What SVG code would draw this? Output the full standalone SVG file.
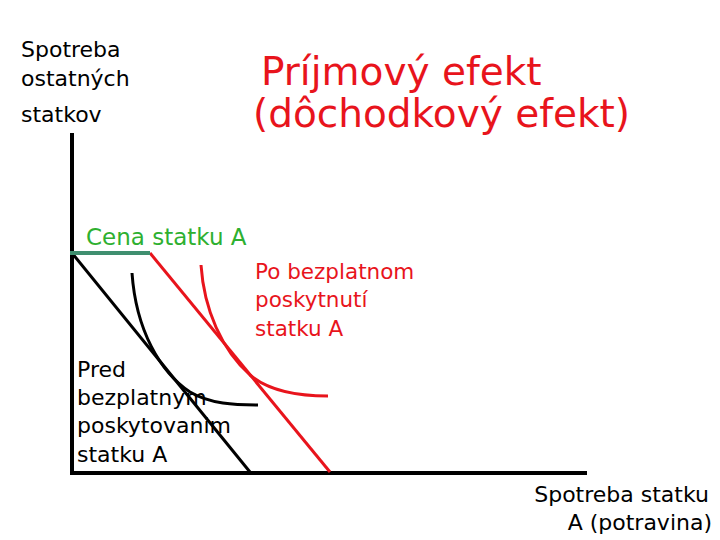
<svg xmlns="http://www.w3.org/2000/svg" width="720" height="540" viewBox="0 0 720 540">
<style>
text{font-family:"DejaVu Sans","Liberation Sans",sans-serif}
.blk{fill:#000}
.red{fill:#e8141c}
.grn{fill:#2eb030}
.ax{stroke:#000;stroke-width:4;fill:none}
.bl{stroke:#000;stroke-width:3;fill:none}
.rl{stroke:#e8141c;stroke-width:3;fill:none}
.gl{stroke:#3f8f6f;stroke-width:4;fill:none}
</style>
<rect width="720" height="540" fill="#fff"/>
<g id="connectors">
<path class="ax" d="M72,133 V473 H587"/>
<path class="bl" d="M72,253 L250,472"/>
<path class="rl" d="M150,253 L330,472"/>
<path class="gl" d="M70,253 H150"/>
<path class="bl" d="M132,273 C136,330 160,372 190,392 C210,404 235,405 258,405"/>
<path class="rl" d="M201,265 C204,310 222,350 250,375 C270,392 300,396 328,396"/>
</g>
<g id="ylabel">
<text class="blk" font-size="22" x="21" y="57">Spotreba</text>
<text class="blk" font-size="22" x="21" y="86">ostatných</text>
<text class="blk" font-size="22" x="21" y="122">statkov</text>
</g>
<g id="title">
<text class="red" font-size="39" x="261" y="85">Príjmový efekt</text>
<text class="red" font-size="39" x="253" y="127">(dôchodkový efekt)</text>
</g>
<g id="price">
<text class="grn" font-size="23" x="86" y="245">Cena statku A</text>
</g>
<g id="after">
<text class="red" font-size="21.5" x="255" y="279">Po bezplatnom</text>
<text class="red" font-size="21.5" x="255" y="307">poskytnutí</text>
<text class="red" font-size="21.5" x="255" y="336">statku A</text>
</g>
<g id="before">
<text class="blk" font-size="22" x="77" y="377">Pred</text>
<text class="blk" font-size="22" x="77" y="405">bezplatnym</text>
<text class="blk" font-size="22" x="77" y="433">poskytovanim</text>
<text class="blk" font-size="22" x="77" y="462">statku A</text>
</g>
<g id="xlabel">
<text class="blk" font-size="22" x="709" y="502" text-anchor="end">Spotreba statku</text>
<text class="blk" font-size="22" x="712" y="530" text-anchor="end">A (potravina)</text>
</g>
</svg>
